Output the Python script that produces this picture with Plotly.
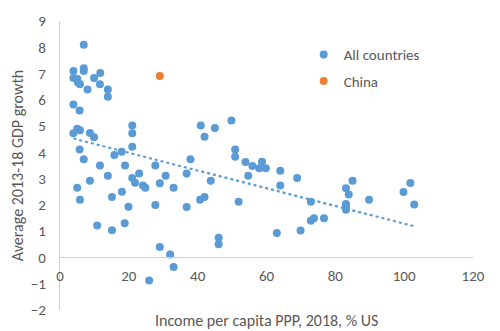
import numpy as np
import plotly.graph_objects as go

# All countries: income per capita PPP 2018 (% of US) and avg 2013-18 GDP growth
income = [6.9, 3.9, 6.9, 6.9, 3.9, 5.0, 5.2, 5.8, 8.0, 9.9, 11.7, 11.6, 13.9, 13.9,
          3.9, 5.7, 3.9, 5.0, 5.8, 8.7, 9.9, 5.7, 6.9, 11.6, 15.8, 17.9, 18.9,
          21.0, 21.0, 21.0, 27.7, 37.9, 40.9, 42.0, 45.0, 49.8, 50.9, 50.9, 53.9,
          5.0, 5.8, 8.7, 13.9, 10.8, 15.1, 15.1, 18.0, 18.8, 19.9, 21.0, 23.0,
          21.8, 24.1, 24.8, 27.7, 29.0, 30.7, 33.0, 36.8, 36.8, 40.7, 42.0, 43.8,
          29.0, 32.0, 33.0, 25.9, 46.1, 46.1, 51.9, 54.7, 55.9, 58.7, 57.9, 59.8,
          64.0, 64.0, 68.9, 63.0, 69.9, 72.9, 72.9, 73.8, 76.7, 83.1, 83.9, 85.0,
          83.1, 83.1, 83.1, 89.8, 99.8, 101.8, 102.9]
growth = [8.1, 7.1, 7.2, 7.1, 6.83, 6.8, 6.66, 6.59, 6.39, 6.83, 7.02, 6.59, 6.39, 6.12,
          5.82, 5.59, 4.73, 4.9, 4.84, 4.74, 4.58, 4.11, 3.74, 3.5, 3.9, 4.02, 3.5,
          5.02, 4.73, 4.21, 3.5, 3.74, 5.02, 4.59, 4.93, 5.21, 4.11, 3.83, 3.63,
          2.65, 2.2, 2.92, 3.11, 1.22, 1.04, 2.3, 2.5, 1.3, 1.93, 3.02, 3.2,
          2.84, 2.74, 2.65, 2.0, 2.82, 3.11, 2.65, 3.2, 1.92, 2.2, 2.3, 2.92,
          0.4, 0.11, -0.36, -0.88, 0.75, 0.5, 2.12, 3.11, 3.48, 3.64, 3.4, 3.4,
          3.3, 2.74, 3.02, 0.93, 1.03, 2.12, 1.4, 1.49, 1.49, 2.63, 2.4, 2.92,
          2.03, 1.93, 1.82, 2.2, 2.49, 2.83, 2.02]
china_income = [29.0]
china_growth = [6.91]

x_ticks = [0, 20, 40, 60, 80, 100, 120]
y_ticks = [-2, -1, 0, 1, 2, 3, 4, 5, 6, 7, 8, 9]

BLUE = "#5B9BD5"
ORANGE = "#ED7D31"
TXT = "#595959"
AX = "#D0D0D0"
FONT = "Carlito, Lato, sans-serif"

slope, intercept = np.polyfit(income, growth, 1)
tx = [min(income), max(income)]
ty = [slope * v + intercept for v in tx]

fig = go.Figure()
fig.add_trace(go.Scatter(x=income, y=growth, mode="markers", name="All countries",
                         marker=dict(color=BLUE, size=8), legendgroup="a"))
fig.add_trace(go.Scatter(x=china_income, y=china_growth, mode="markers", name="China",
                         marker=dict(color=ORANGE, size=8), legendgroup="b"))
fig.add_trace(go.Scatter(x=tx, y=ty, mode="lines", showlegend=False,
                         line=dict(color=BLUE, width=2.2, dash="dot")))

fig.update_layout(
    width=500, height=331,
    margin=dict(l=60, r=27, t=14, b=19),
    paper_bgcolor="white", plot_bgcolor="white",
    font=dict(family=FONT, size=15, color=TXT),
    showlegend=True,
    legend=dict(x=0.59, y=0.94, xanchor="left", yanchor="top",
                font=dict(size=15, color=TXT), tracegroupgap=4,
                bgcolor="rgba(0,0,0,0)", itemwidth=30),
    xaxis=dict(range=[0, 120], tickvals=x_ticks, showgrid=False, zeroline=False,
               showline=True, linecolor=AX, linewidth=1.3,
               anchor="free", position=2 / 11,
               ticks="outside", ticklen=4, tickcolor="rgba(0,0,0,0)",
               tickfont=dict(size=15, color=TXT)),
    yaxis=dict(range=[-2, 9], tickvals=y_ticks, showgrid=False, zeroline=False,
               showline=True, linecolor=AX, linewidth=1.3,
               ticks="outside", ticklen=10, tickcolor="rgba(0,0,0,0)",
               tickfont=dict(size=15, color=TXT),
               title=dict(text="Average 2013-18 GDP growth", standoff=3,
                          font=dict(size=16, color=TXT))),
    annotations=[dict(text="Income per capita PPP, 2018, % US", xref="paper", yref="paper",
                      x=0.5, y=-0.035, xanchor="center", yanchor="middle", showarrow=False,
                      font=dict(size=16, color=TXT))],
)

fig.write_html("out.html")
